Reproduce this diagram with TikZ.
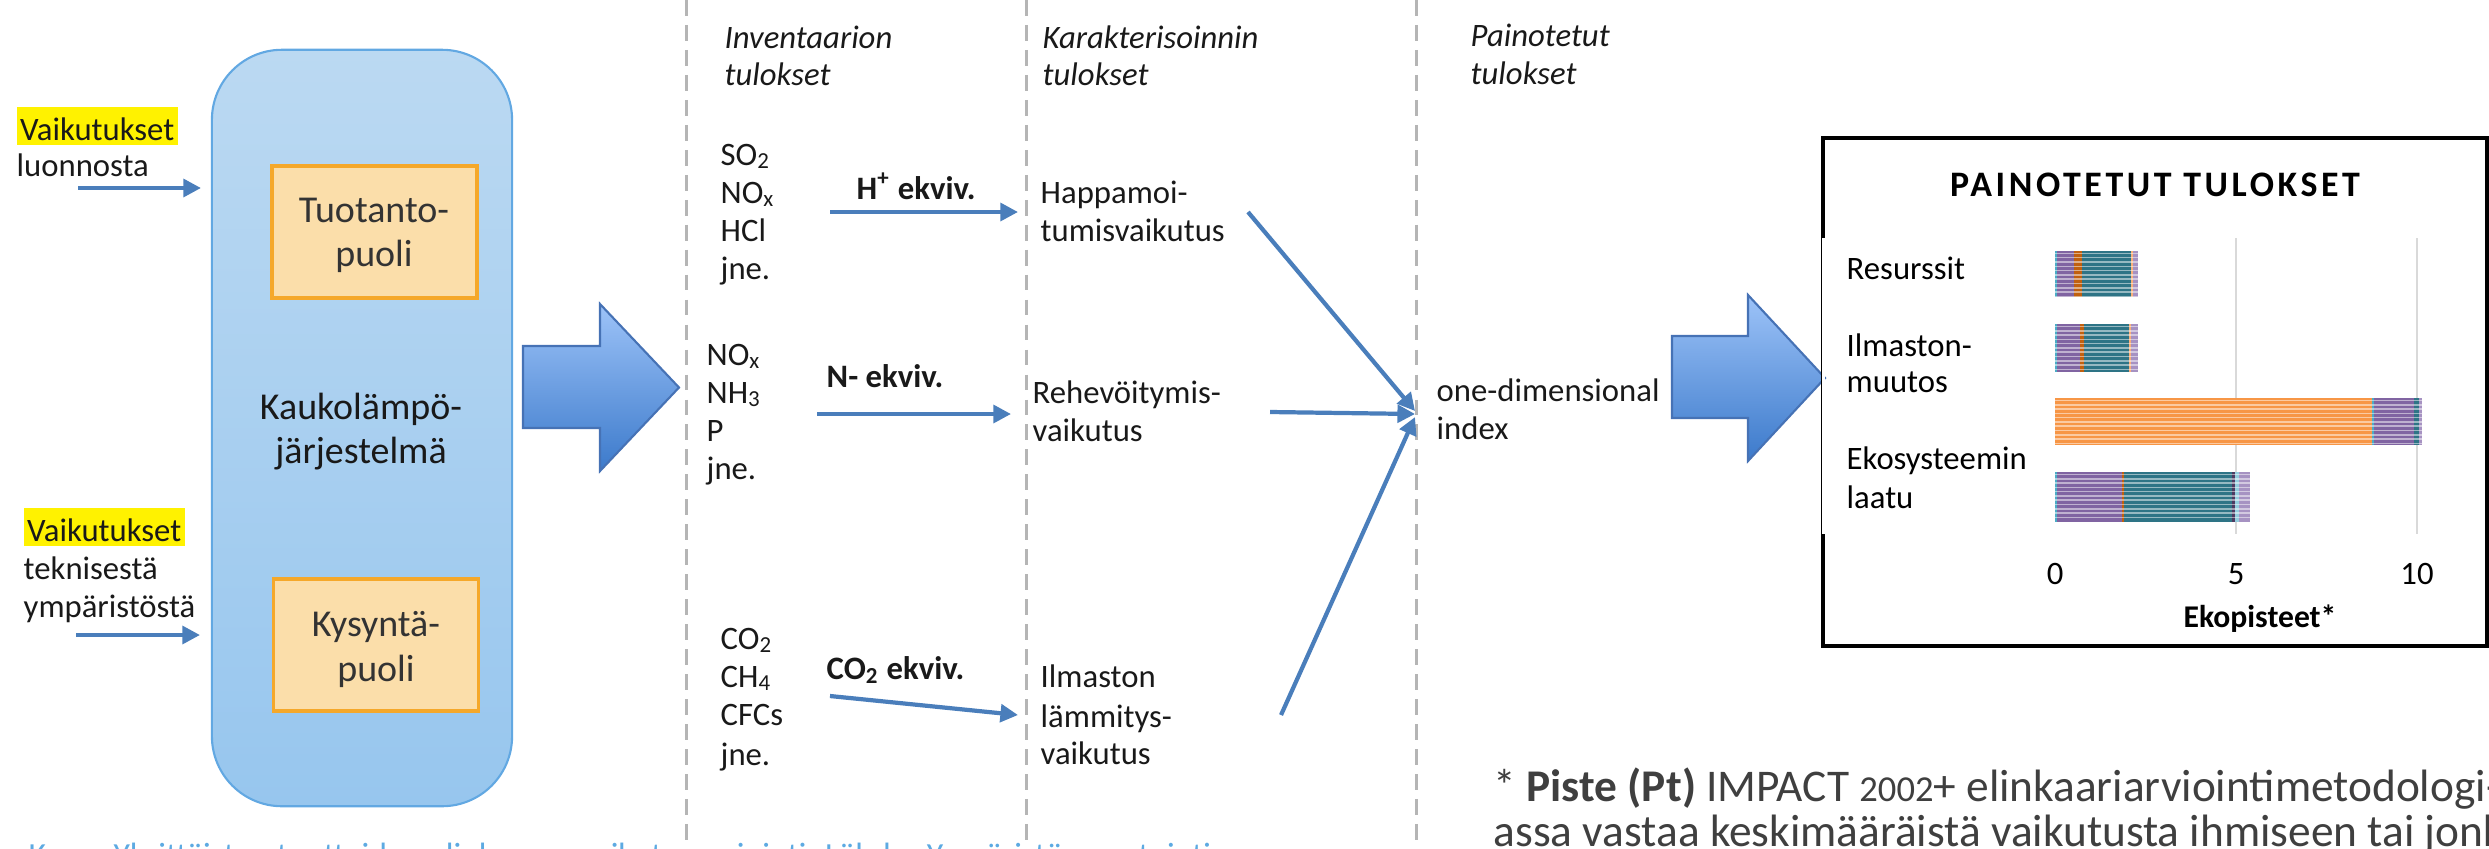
\documentclass[tikz,border=0pt]{standalone}
\usepackage{fontspec}
\setmainfont{Carlito}
\usetikzlibrary{arrows.meta}

\definecolor{flowblue}{HTML}{4A7EBB}
\definecolor{sepgray}{HTML}{B5B5B5}
\definecolor{sysTop}{HTML}{BBD9F2}
\definecolor{sysBot}{HTML}{97C6EE}
\definecolor{sysEdge}{HTML}{62A8E2}
\definecolor{partFill}{HTML}{FBDEAA}
\definecolor{partEdge}{HTML}{F5A82A}
\definecolor{bigTop}{HTML}{9DC3F8}
\definecolor{bigBot}{HTML}{3C7ACB}
\definecolor{bigEdge}{HTML}{4672B5}
\definecolor{capBlue}{HTML}{5DAAE2}
\definecolor{noteGray}{HTML}{3F3F3F}
\definecolor{cPurple}{HTML}{8064A2}
\definecolor{cRust}{HTML}{C0600F}
\definecolor{cTeal}{HTML}{2E7486}
\definecolor{cSky}{HTML}{4BACC6}
\definecolor{cOrange}{HTML}{F79646}
\definecolor{cLilac}{HTML}{A692C2}
\definecolor{cPlum}{HTML}{4E3B62}
\definecolor{cPeach}{HTML}{F9B07A}
\definecolor{gridline}{HTML}{D9D9D9}

\newcommand{\mainsize}{\fontsize{9.3}{11}\selectfont}
\newcommand{\boxsize}{\fontsize{10.8}{12.5}\selectfont}
\newcommand{\notesize}{\fontsize{12.9}{14.8}\selectfont}

\tikzset{
  txt/.style={anchor=base west, inner sep=0, font=\mainsize, text=black!90},
  ctxt/.style={txt, anchor=base},
  boxtxt/.style={ctxt, font=\boxsize, text=black!80},
  hilite/.style={txt, fill=yellow, text height=9.4pt, text depth=1.4pt, inner xsep=1pt, inner ysep=0},
  flow/.style={draw=flowblue, line width=1.2pt, -{Triangle[length=5pt,width=5pt]}},
  sepline/.style={sepgray, line width=0.85pt, dash pattern=on 4.5pt off 2.6pt},
  blockarrow/.style={draw=bigEdge, line width=0.6pt, top color=bigTop, bottom color=bigBot},
  partbox/.style={draw=partEdge, line width=0.9pt, fill=partFill, minimum width=2.05cm, minimum height=1.32cm, inner sep=0},
  charttxt/.style={inner sep=0, font=\mainsize, text=black}
}

\newcommand{\barstripes}[2]{%
  \foreach \k in {0,...,10}{%
    \draw[white, opacity=.5, line width=0.45pt] (0,{#2+2.4+4.3*\k}) -- (#1,{#2+2.4+4.3*\k});}}

\begin{document}
\begin{tikzpicture}[x=0.01cm, y=-0.01cm]
\useasboundingbox (0,0) rectangle (2489,848);
\clip (0,0) rectangle (2489,848);

% column separators
\draw[sepline] (686,0) -- (686,848);
\draw[sepline] (1026,0) -- (1026,848);
\draw[sepline] (1416,0) -- (1416,848);

% district heating system
\node[draw=sysEdge, line width=0.6pt, rounded corners=0.7cm, top color=sysTop, bottom color=sysBot,
      minimum width=3cm, minimum height=7.56cm, inner sep=0] (sys) at (362,428) {};
\node[partbox] (prod) at (374.5,232) {};
\node[partbox] (dem) at (376,645) {};
\node[boxtxt] (prodA) at (374,222) {Tuotanto-};
\node[boxtxt] (prodB) at (374,266) {puoli};
\node[boxtxt] (demA) at (376,636) {Kysyntä-};
\node[boxtxt] (demB) at (376,681) {puoli};
\node[boxtxt, text=black!90] (sysA) at (361,419) {Kaukolämpö-};
\node[boxtxt, text=black!90] (sysB) at (361,463) {järjestelmä};

% inputs
\node[hilite] (inA) at (16,140) {Vaikutukset};
\node[txt] (inA2) at (16,176) {luonnosta};
\node[hilite] (inB) at (23,541) {Vaikutukset};
\node[txt] (inB2) at (23,579) {teknisestä};
\node[txt] (inB3) at (23,617) {ympäristöstä};
\coordinate (inAs) at (78,188);
\coordinate (inAe) at (201,188);
\coordinate (inBs) at (76,635);
\coordinate (inBe) at (200,635);
\draw[flow] (inAs) -- (inAe);
\draw[flow] (inBs) -- (inBe);

% block arrows
\path[blockarrow] (523,346) -- (600,346) -- (600,304) -- (679,387.5) -- (600,471) -- (600,428) -- (523,428) -- cycle;
\path[blockarrow] (1672,336) -- (1748,336) -- (1748,295) -- (1825,378) -- (1748,461) -- (1748,418) -- (1672,418) -- cycle;

% column headings
\node[txt, font=\mainsize\itshape] (h1a) at (724,48) {Inventaarion};
\node[txt, font=\mainsize\itshape] (h1b) at (724,85) {tulokset};
\node[txt, font=\mainsize\itshape] (h2a) at (1042,48) {Karakterisoinnin};
\node[txt, font=\mainsize\itshape] (h2b) at (1042,85) {tulokset};
\node[txt, font=\mainsize\itshape] (h3a) at (1470,46) {Painotetut};
\node[txt, font=\mainsize\itshape] (h3b) at (1470,84) {tulokset};

% inventory results
\node[txt] (s1) at (720,165) {SO\textsubscript{2}};
\node[txt] (s2) at (720,203) {NO\textsubscript{x}};
\node[txt] (s3) at (720,241) {HCl};
\node[txt] (s4) at (720,279) {jne.};
\node[txt] (n1) at (706,365) {NO\textsubscript{x}};
\node[txt] (n2) at (706,403) {NH\textsubscript{3}};
\node[txt] (n3) at (706,441) {P};
\node[txt] (n4) at (706,479) {jne.};
\node[txt] (c1) at (720,649) {CO\textsubscript{2}};
\node[txt] (c2) at (720,687) {CH\textsubscript{4}};
\node[txt] (c3) at (720,725) {CFCs};
\node[txt] (c4) at (720,765) {jne.};

% characterisation factors
\node[txt, font=\mainsize\bfseries] (eqH) at (856,199) {H\textsuperscript{+} ekviv.};
\node[txt, font=\mainsize\bfseries] (eqN) at (826,387) {N- ekviv.};
\node[txt, font=\mainsize\bfseries] (eqC) at (826,679) {CO\textsubscript{2} ekviv.};
\coordinate (aHs) at (830,212);  \coordinate (aHe) at (1018,212);
\coordinate (aNs) at (817,414);  \coordinate (aNe) at (1011,414);
\coordinate (aCs) at (830,696);  \coordinate (aCe) at (1018,715);
\draw[flow] (aHs) -- (aHe);
\draw[flow] (aNs) -- (aNe);
\draw[flow] (aCs) -- (aCe);

% characterisation results
\node[txt] (r1a) at (1040,203) {Happamoi-};
\node[txt] (r1b) at (1040,241) {tumisvaikutus};
\node[txt] (r2a) at (1032,403) {Rehevöitymis-};
\node[txt] (r2b) at (1032,441) {vaikutus};
\node[txt] (r3a) at (1040,687) {Ilmaston};
\node[txt] (r3b) at (1040,727) {lämmitys-};
\node[txt] (r3c) at (1040,764) {vaikutus};

% weighting into one index
\node[txt] (idxA) at (1436,401) {one-dimensional};
\node[txt] (idxB) at (1436,439) {index};
\coordinate (w1) at (1248,212); \coordinate (w1e) at (1415,411);
\coordinate (w2) at (1270,412); \coordinate (w2e) at (1415,414);
\coordinate (w3) at (1281,715); \coordinate (w3e) at (1415,417);
\draw[flow] (w1) -- (w1e);
\draw[flow] (w2) -- (w2e);
\draw[flow] (w3) -- (w3e);

% weighted results chart
\node[draw, line width=1.3pt, minimum width=6.64cm, minimum height=5.08cm, inner sep=0] (chart) at (2155,392) {};
\draw[white, line width=0.85pt] (1823.8,238) -- (1823.8,534);
\node[anchor=base, inner sep=0, text=black, font=\fontsize{10.2}{12}\selectfont\bfseries\addfontfeature{LetterSpace=10}] (ctitle) at (2155,196) {PAINOTETUT TULOKSET};
\node[charttxt, anchor=base west] (k1) at (1846,279) {Resurssit};
\node[charttxt, anchor=base west] (k2a) at (1846,356) {Ilmaston-};
\node[charttxt, anchor=base west] (k2b) at (1846,392) {muutos};
\node[charttxt, anchor=base west] (k3a) at (1846,469) {Ekosysteemin};
\node[charttxt, anchor=base west] (k3b) at (1846,508) {laatu};
\draw[gridline, line width=0.8pt] (2236,238) -- (2236,534);
\draw[gridline, line width=0.8pt] (2417,238) -- (2417,534);

\begin{scope}[shift={(2055,0)}, x=0.362cm]
  \foreach \a/\b/\c in {0/.05/cSky, .05/.53/cPurple, .53/.74/cRust, .74/2.09/cTeal, 2.09/2.15/cPeach, 2.15/2.3/cLilac}
    {\fill[\c] (\a,251) rectangle (\b,297);}
  \barstripes{2.3}{251}
  \foreach \a/\b/\c in {0/.05/cSky, .05/.68/cPurple, .68/.79/cRust, .79/2.05/cTeal, 2.05/2.11/cPeach, 2.11/2.3/cLilac}
    {\fill[\c] (\a,324) rectangle (\b,372);}
  \barstripes{2.3}{324}
  \foreach \a/\b/\c in {0/8.75/cOrange, 8.75/8.81/cSky, 8.81/9.91/cPurple, 9.91/10.06/cTeal, 10.06/10.12/cLilac}
    {\fill[\c] (\a,398) rectangle (\b,445);}
  \barstripes{10.12}{398}
  \foreach \a/\b/\c in {0/.05/cSky, .05/1.84/cPurple, 1.84/1.9/cRust, 1.9/4.88/cTeal, 4.88/4.97/cPlum, 4.97/5.09/cSky!60, 5.09/5.38/cLilac}
    {\fill[\c] (\a,472) rectangle (\b,522);}
  \barstripes{5.38}{472}
\end{scope}

\node[charttxt, anchor=base] (t0) at (2055,584) {0};
\node[charttxt, anchor=base] (t5) at (2236,584) {5};
\node[charttxt, anchor=base] (t10) at (2417,584) {10};
\node[charttxt, anchor=base, font=\fontsize{9}{11}\selectfont\bfseries] (xlab) at (2260,627) {Ekopisteet*};

% footnote
\node[txt, text=noteGray, font=\notesize] (noteA) at (1493,801)
  {* \textbf{Piste (Pt)} IMPACT {\fontsize{10.4}{12}\selectfont 2002}+ elinkaariarviointimetodologi-};
\node[txt, text=noteGray, font=\notesize] (noteB) at (1493,846)
  {assa vastaa keskimääräistä vaikutusta ihmiseen tai jonka};

% source caption
\node[txt, text=capBlue, font=\fontsize{9.6}{11}\selectfont] (cap) at (28,866)
  {Kuva: Yksittäisten tuotteiden elinkaaren vaikutusarviointi. Lähde: Ympäristöraportointi};
\end{tikzpicture}
\end{document}
